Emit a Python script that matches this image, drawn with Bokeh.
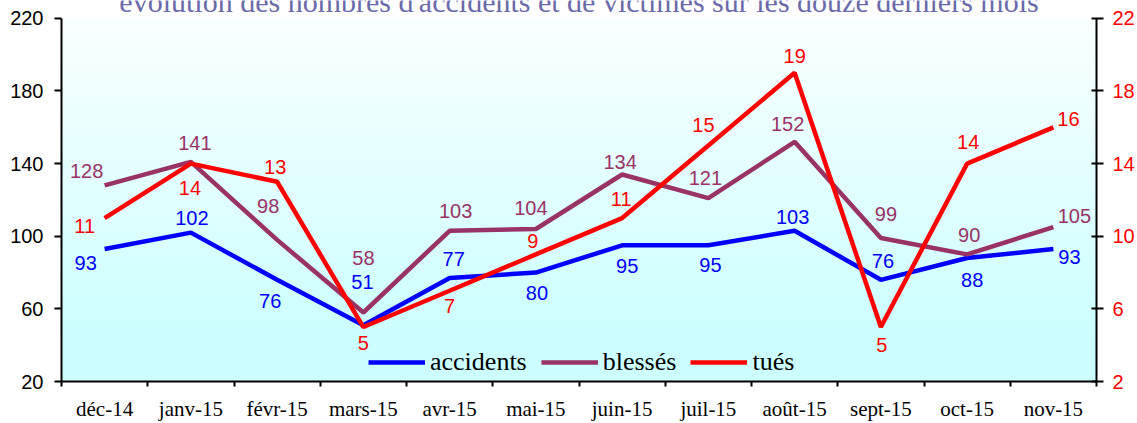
import numpy as np
from bokeh.plotting import figure
from bokeh.models import Range1d, LinearAxis, FixedTicker, Label, ColumnDataSource
from bokeh.core.properties import value
from bokeh.embed import file_html
from bokeh.resources import INLINE

# ---- data ----
months = ["déc-14", "janv-15", "févr-15", "mars-15", "avr-15", "mai-15",
          "juin-15", "juil-15", "août-15", "sept-15", "oct-15", "nov-15"]
accidents = [93, 102, 76, 51, 77, 80, 95, 95, 103, 76, 88, 93]
blesses = [128, 141, 98, 58, 103, 104, 134, 121, 152, 99, 90, 105]
tues = [11, 14, 13, 5, 7, 9, 11, 15, 19, 5, 14, 16]
left_ticks = [20, 60, 100, 140, 180, 220]
right_ticks = [2, 6, 10, 14, 18, 22]
title_text = "évolution des nombres d'accidents et de victimes sur les douze derniers mois"

# ---- label offsets (pixels; dy positive = down) ----
acc_dx = [-19, 1, -7, -1, 4, 1, 5, 2, -2, 2, 5, 16]
acc_dy = [14, -15, 21, -43, -19, 20, 21, 20, -14, -19, 22, 8]
ble_dx = [-18, 4, -9, 0, 6, -5, -2, -3, -7, 5, 2, 21]
ble_dy = [-14, -19, -34, -55, -20, -21, -13, -20, -18, -24, -19, -11]
tue_dx = [-20, -1, -2, 0, 0, -3, -1, -5, 0, 1, 1, 15]
tue_dy = [8, 24, -15, 16, 15, -13, -19, -20, -17, 18, -22, -8]

BLUE = "#0000ff"
PLUM = "#993366"
RED = "#ff0000"
SANS = "Liberation Sans"
SERIF = "Liberation Serif"

n = len(months)
centers = [i + 0.5 for i in range(n)]

# layout: frame spans y=0..384 px; the axes' own extent is 18..384 px
H, BOTTOM, TOP_PAD = 423, 39, 18
plot_px = H - BOTTOM - TOP_PAD
l_lo, l_hi = left_ticks[0], left_ticks[-1]
r_lo, r_hi = right_ticks[0], right_ticks[-1]
l_top = l_hi + TOP_PAD * (l_hi - l_lo) / plot_px
r_top = r_hi + TOP_PAD * (r_hi - r_lo) / plot_px

p = figure(width=1137, height=H, x_range=Range1d(0, n), y_range=Range1d(l_lo, l_top),
           output_backend="svg", toolbar_location=None, x_axis_location=None,
           y_axis_location=None, min_border_left=61, min_border_right=41,
           min_border_top=0, min_border_bottom=BOTTOM)
p.outline_line_color = None
p.xgrid.visible = False
p.ygrid.visible = False
p.background_fill_color = "white"
p.border_fill_color = "white"

p.extra_y_ranges = {"tues": Range1d(r_lo, r_top)}

# gradient background (white-ish top -> light cyan bottom)
N = 120
t = np.linspace(0, 1, N)
f = np.clip((t - 0.12) / 0.88, 0, 1)
img = np.empty((N, 1), dtype=np.uint32)
view = img.view(dtype=np.uint8).reshape((N, 1, 4))
view[:, 0, 0] = (204 + (250 - 204) * f).astype(np.uint8)
view[:, 0, 1] = 255
view[:, 0, 2] = 255
view[:, 0, 3] = 255
p.image_rgba(image=[img], x=0, y=l_lo, dw=n, dh=l_hi - l_lo)

# axes
yl = LinearAxis(ticker=FixedTicker(ticks=left_ticks), bounds=(l_lo, l_hi))
yl.axis_line_width = 2
yl.major_tick_line_width = 2
yl.major_tick_out = 7
yl.major_tick_in = 0
yl.minor_tick_line_color = None
yl.major_label_standoff = 11
yl.major_label_text_font = SANS
yl.major_label_text_font_size = "20px"
yl.major_label_text_color = "black"
p.add_layout(yl, "left")

yr = LinearAxis(y_range_name="tues", ticker=FixedTicker(ticks=right_ticks),
                bounds=(r_lo, r_hi))
yr.axis_line_width = 2
yr.major_tick_line_width = 2
yr.major_tick_out = 7
yr.major_tick_in = 5
yr.minor_tick_line_color = None
yr.major_label_standoff = 9
yr.major_label_text_font = SANS
yr.major_label_text_font_size = "20px"
yr.major_label_text_color = RED
p.add_layout(yr, "right")

xa = LinearAxis(ticker=FixedTicker(ticks=centers, minor_ticks=list(range(n + 1))),
                major_label_overrides={c: m for c, m in zip(centers, months)})
xa.axis_line_width = 2
xa.major_tick_line_color = None
xa.major_tick_out = 0
xa.major_tick_in = 0
xa.minor_tick_line_width = 2
xa.minor_tick_out = 5
xa.minor_tick_in = 0
xa.major_label_standoff = 10
xa.major_label_text_font = SERIF
xa.major_label_text_font_size = "21px"
xa.major_label_text_color = "black"
p.add_layout(xa, "below")

# lines
src = ColumnDataSource(dict(x=centers, acc=accidents, ble=blesses, tue=tues,
                            acc_t=[str(v) for v in accidents],
                            ble_t=[str(v) for v in blesses],
                            tue_t=[str(v) for v in tues],
                            adx=acc_dx, ady=acc_dy, bdx=ble_dx, bdy=ble_dy,
                            tdx=tue_dx, tdy=tue_dy))
p.line("x", "acc", source=src, color=BLUE, line_width=4.5, legend_label="accidents")
p.line("x", "ble", source=src, color=PLUM, line_width=4.5, legend_label="blessés")
p.line("x", "tue", source=src, color=RED, line_width=4.5, legend_label="tués",
       y_range_name="tues")

common = dict(text_font=value(SANS), text_font_size="20px",
              text_align="center", text_baseline="middle")
p.text("x", "acc", text="acc_t", x_offset="adx", y_offset="ady", source=src,
       text_color=BLUE, **common)
p.text("x", "ble", text="ble_t", x_offset="bdx", y_offset="bdy", source=src,
       text_color=PLUM, **common)
p.text("x", "tue", text="tue_t", x_offset="tdx", y_offset="tdy", source=src,
       text_color=RED, y_range_name="tues", **common)

# legend
lg = p.legend[0]
lg.location = (307, 4)
lg.orientation = "horizontal"
lg.background_fill_alpha = 0
lg.border_line_alpha = 0
lg.label_text_font = SERIF
lg.label_text_font_size = "26px"
lg.label_text_color = "black"
lg.glyph_width = 57
lg.label_standoff = 5
lg.spacing = 14
lg.padding = 0
lg.margin = 0

# title (partly clipped at the top like the reference)
p.add_layout(Label(x=n / 2, y=l_hi + 17 * (l_hi - l_lo) / plot_px, text=title_text,
                   text_align="center", text_baseline="alphabetic",
                   text_font=SERIF, text_font_size="30px", text_color="#6a6aaa"))

open("out.html", "w").write(file_html(p, INLINE))
